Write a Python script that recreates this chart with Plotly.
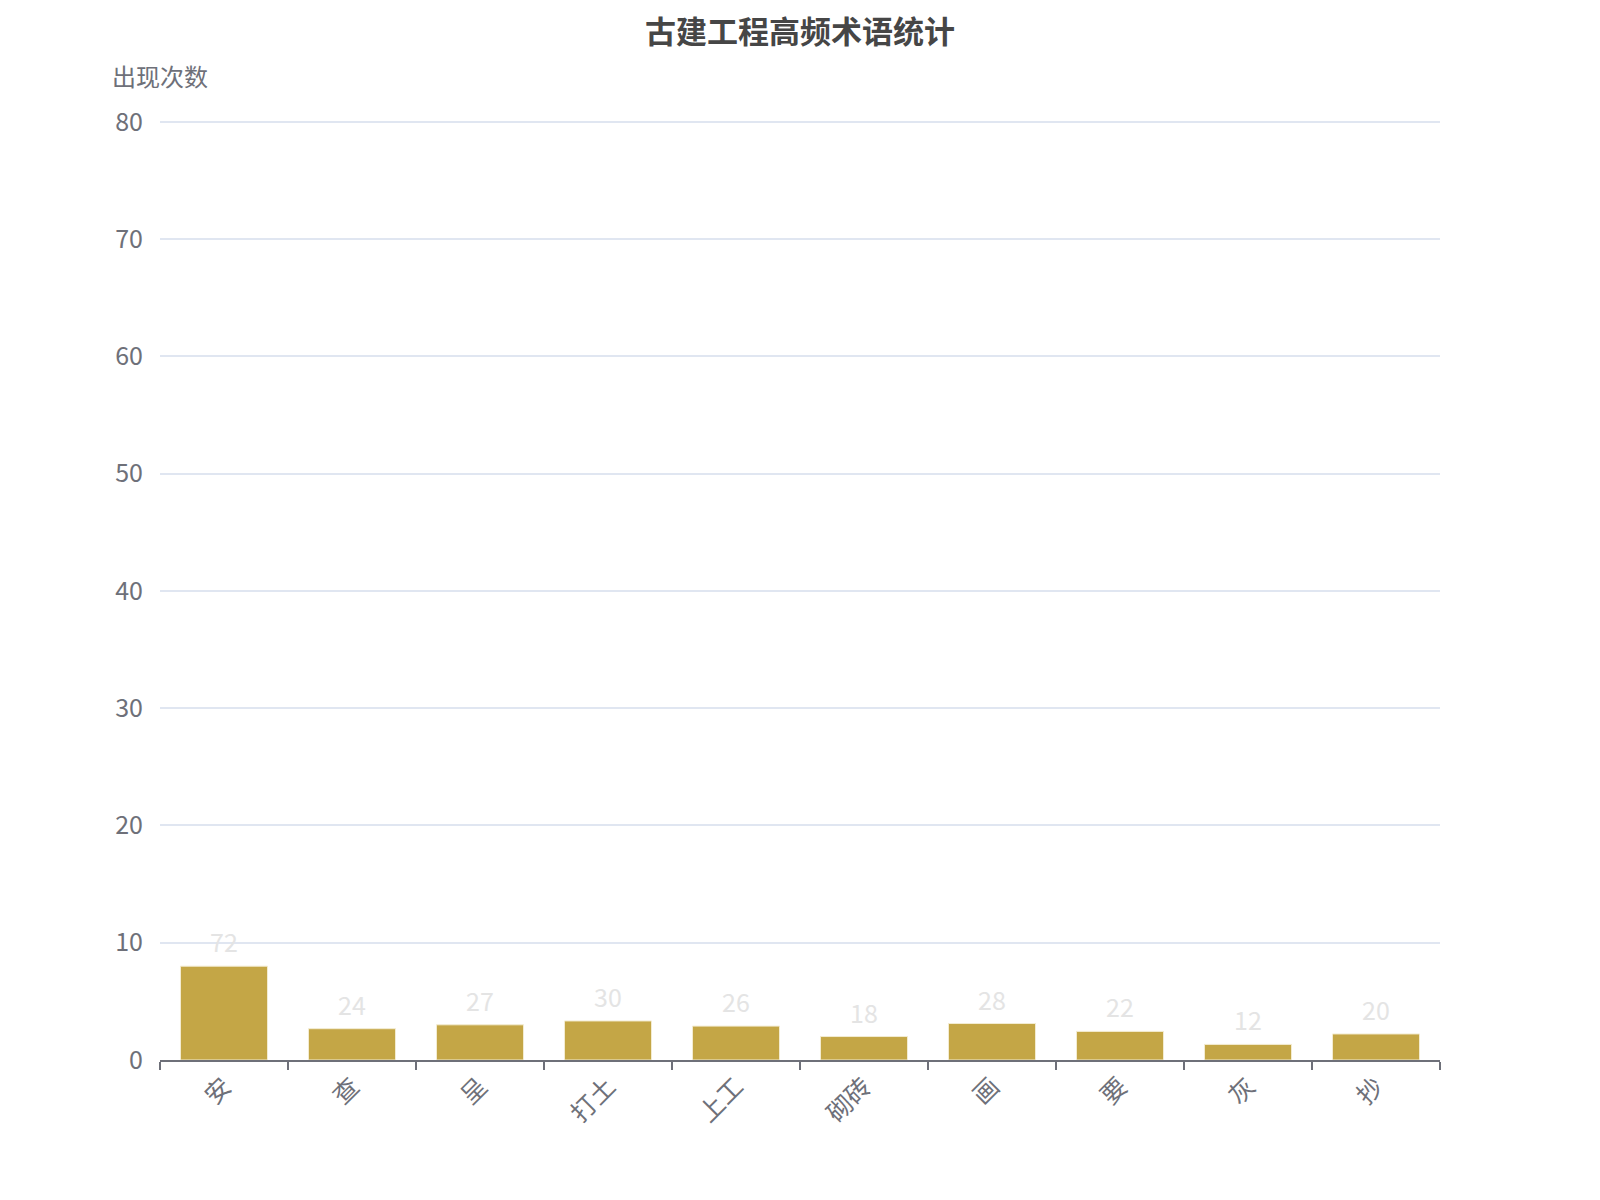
import plotly.graph_objects as go

terms = ["安", "查", "呈", "打土", "上工", "砌砖", "画", "要", "灰", "抄"]
counts = [72, 24, 27, 30, 26, 18, 28, 22, 12, 20]
bar_heights = [8.0, 2.67, 3.0, 3.33, 2.89, 2.0, 3.11, 2.44, 1.33, 2.22]
y_ticks = [0, 10, 20, 30, 40, 50, 60, 70, 80]

FONT = "Noto Sans CJK SC"
AXIS_GRAY = "#6e7079"
GRID = "#e0e6f1"

fig = go.Figure()
fig.add_trace(go.Bar(
    x=terms,
    y=bar_heights,
    marker=dict(color="#c4a646", line=dict(color="#f3ecd2", width=1)),
    hoverinfo="skip",
))

for t, h, c in zip(terms, bar_heights, counts):
    fig.add_annotation(
        x=t, y=h, xref="x", yref="y",
        text=str(c), showarrow=False,
        yanchor="middle", yshift=25,
        font=dict(family=FONT, size=25, color="#e4e4e4"),
    )

fig.add_annotation(
    text="出现次数", xref="paper", yref="paper", x=0, y=1,
    xanchor="center", yanchor="middle", yshift=45, showarrow=False,
    font=dict(family=FONT, size=24, color=AXIS_GRAY),
)

fig.update_layout(
    width=1600, height=1200,
    margin=dict(l=152, r=168, t=112, b=148),
    paper_bgcolor="white", plot_bgcolor="white",
    showlegend=False,
    bargap=0.32,
    title=dict(
        text="<b>古建工程高频术语统计</b>",
        x=0.5, xanchor="center", xref="paper",
        y=1, yanchor="bottom", yref="paper",
        pad=dict(b=77),
        font=dict(family=FONT, size=31, color="#464646"),
    ),
    font=dict(family=FONT, color=AXIS_GRAY),
)

fig.update_xaxes(
    type="category",
    tickangle=-45,
    tickfont=dict(family=FONT, size=25, color=AXIS_GRAY),
    showline=True, linecolor=AXIS_GRAY, linewidth=2,
    ticks="outside", ticklen=8, tickcolor=AXIS_GRAY, tickwidth=2,
    tickson="boundaries",
    showgrid=False, zeroline=False,
)

fig.update_yaxes(
    range=[0, 80.15],
    tickvals=y_ticks,
    tickfont=dict(family=FONT, size=25, color=AXIS_GRAY),
    showgrid=True, gridcolor=GRID, gridwidth=1.5,
    zeroline=False, showline=False,
    ticks="outside", ticklen=11, tickcolor="rgba(0,0,0,0)",
)

fig.write_html("out.html")
